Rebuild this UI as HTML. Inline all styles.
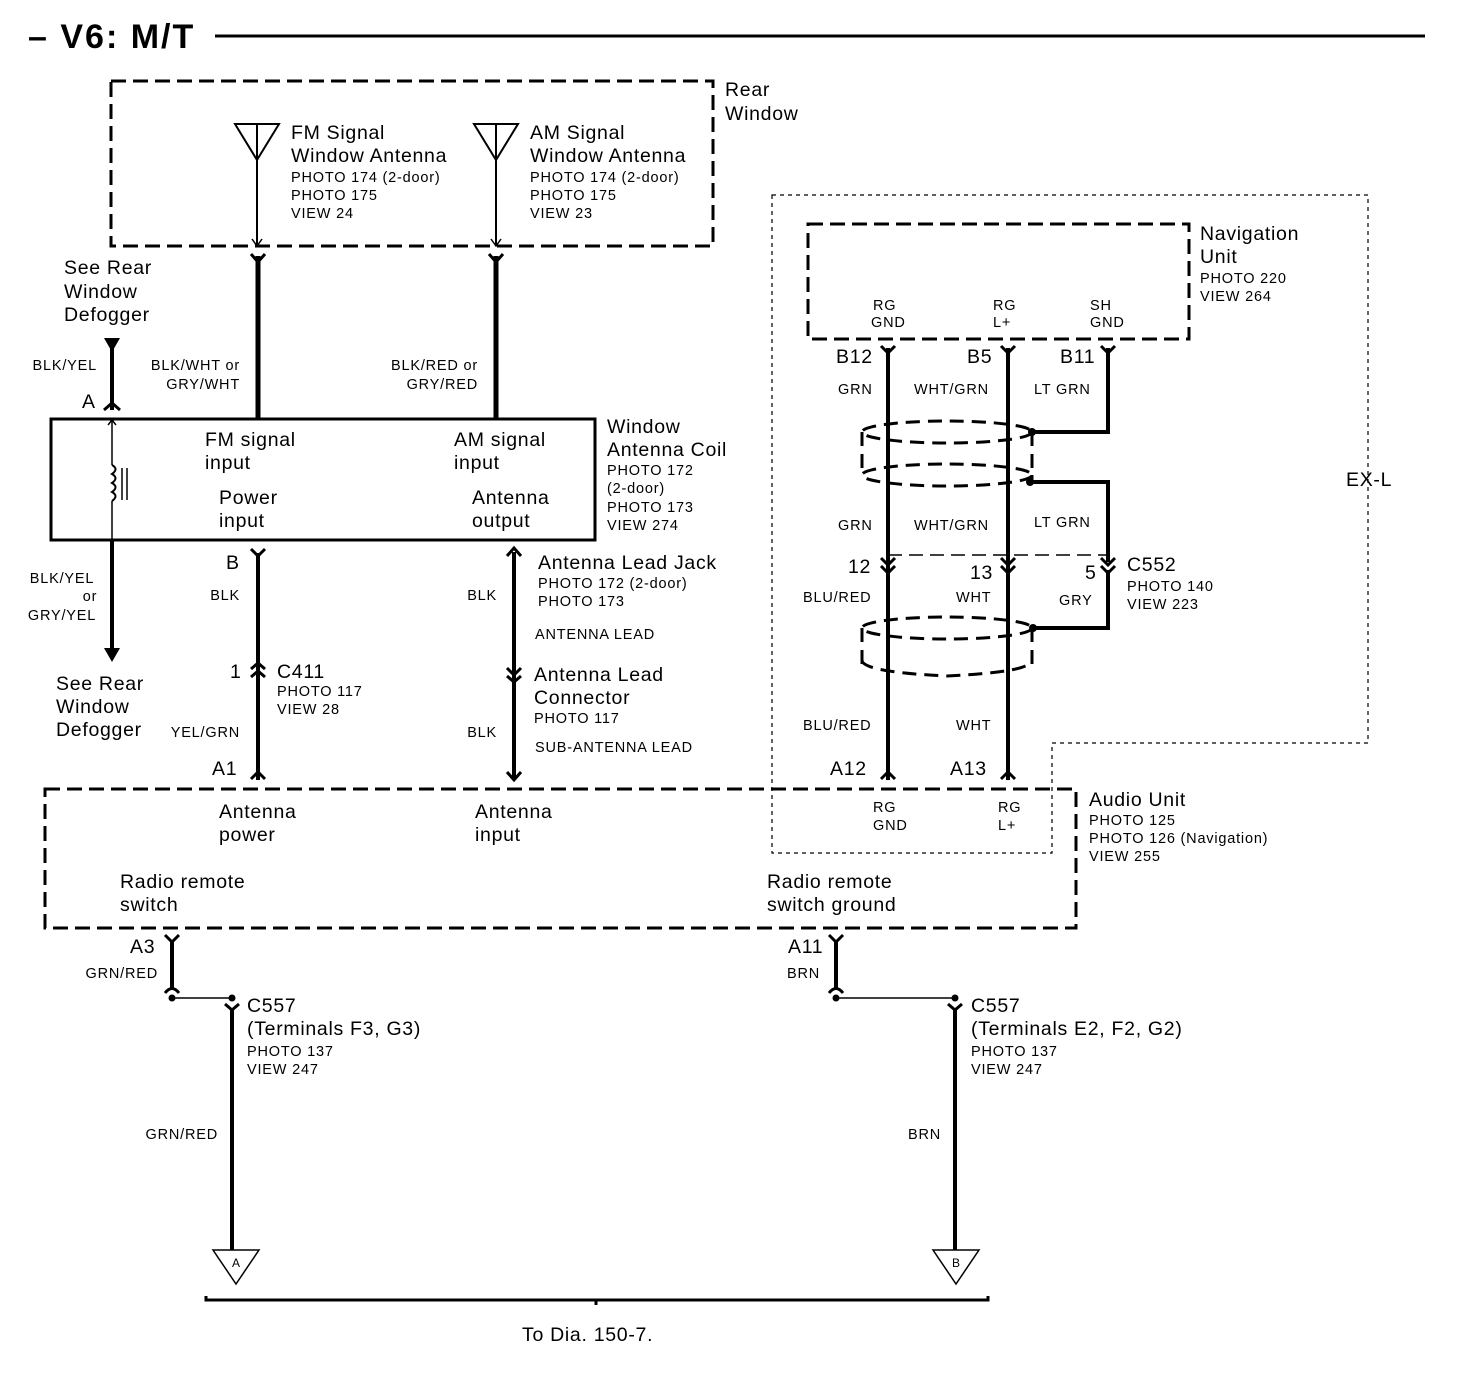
<!DOCTYPE html>
<html><head><meta charset="utf-8"><style>
body{margin:0;background:#fff}
svg text{font-family:"Liberation Sans",Arial,sans-serif;fill:#000}
.b{font-size:19.5px;letter-spacing:0.7px}.s{font-size:14.5px;letter-spacing:0.8px}
</style></head><body>
<svg width="1472" height="1376" viewBox="0 0 1472 1376" xmlns="http://www.w3.org/2000/svg">
<g fill="none" stroke="#000" stroke-linecap="butt">
<line x1="215" y1="36" x2="1425" y2="36" stroke-width="3"/>
<rect x="111" y="81" width="602" height="165" stroke-width="3" stroke-dasharray="15,7"/>
<path d="M235 124 L279 124 L257 160 Z M257 124 L257 160 M257 160 L257 246" stroke-width="2"/>
<path d="M252 239 L257 246 L262 239" stroke-width="1.5"/>
<path d="M474 124 L518 124 L496 160 Z M496 124 L496 160 M496 160 L496 246" stroke-width="2"/>
<path d="M491 239 L496 246 L501 239" stroke-width="1.5"/>
<line x1="258" y1="256" x2="258" y2="418" stroke-width="5"/>
<path d="M251 254 L258 262 L265 254" stroke-width="3"/>
<line x1="496" y1="256" x2="496" y2="418" stroke-width="5"/>
<path d="M489 254 L496 262 L503 254" stroke-width="3"/>
<rect x="51" y="419" width="544" height="121" stroke-width="3"/>
<line x1="112" y1="345" x2="112" y2="410" stroke-width="4"/>
<path d="M104 410 L112 403 L120 410" stroke-width="3"/>
<line x1="112" y1="419" x2="112" y2="465" stroke-width="1.5"/>
<path d="M108 425 L112 420 L116 425" stroke-width="1.5"/>
<path d="M112 465 q7 4 0 9 q7 4 0 9 q7 4 0 9 q7 4 0 9" stroke-width="2"/>
<line x1="112" y1="501" x2="112" y2="540" stroke-width="1.5"/>
<line x1="122" y1="468" x2="122" y2="500" stroke-width="1.5"/>
<line x1="127" y1="468" x2="127" y2="500" stroke-width="1.5"/>
<line x1="112" y1="540" x2="112" y2="650" stroke-width="4"/>
<line x1="258" y1="553" x2="258" y2="780" stroke-width="4"/>
<path d="M251 549 L258 556 L265 549" stroke-width="3"/>
<path d="M251 669 L258 663 L265 669 M251 677 L258 671 L265 677" stroke-width="3"/>
<path d="M251 779 L258 772 L265 779" stroke-width="3"/>
<line x1="514" y1="552" x2="514" y2="778" stroke-width="4"/>
<path d="M507 556 L514 548 L521 556" stroke-width="3"/>
<path d="M507 668 L514 675 L521 668 M507 676 L514 682 L521 676" stroke-width="3"/>
<path d="M507 772 L514 780 L521 772" stroke-width="3"/>
<rect x="45" y="789" width="1031" height="139" stroke-width="3" stroke-dasharray="15,7"/>
<path d="M772 195 L1368 195 L1368 743 L1052 743 L1052 853 L772 853 Z" stroke-width="1.2" stroke-dasharray="4,4"/>
<rect x="808" y="224" width="381" height="115" stroke-width="3" stroke-dasharray="15,7"/>
<line x1="888" y1="348" x2="888" y2="780" stroke-width="4"/>
<line x1="1008" y1="348" x2="1008" y2="780" stroke-width="4"/>
<path d="M881 346 L888 353 L895 346 M1001 346 L1008 353 L1015 346 M1101 346 L1108 353 L1115 346" stroke-width="3"/>
<path d="M1108 348 L1108 432 L1035 432" stroke-width="4"/>
<path d="M1030 482 L1108 482 L1108 562" stroke-width="4"/>
<path d="M1108 570 L1108 628 L1035 628" stroke-width="4"/>
<line x1="888" y1="555" x2="1108" y2="555" stroke-width="1.5" stroke-dasharray="14,7"/>
<path d="M881 558 L888 565 L895 558 M881 566 L888 573 L895 566 M1001 558 L1008 565 L1015 558 M1001 566 L1008 573 L1015 566 M1101 558 L1108 565 L1115 558 M1101 566 L1108 573 L1115 566" stroke-width="3"/>
<path d="M881 779 L888 772 L895 779 M1001 779 L1008 772 L1015 779" stroke-width="3"/>
<g stroke-width="3" stroke-dasharray="14,8">
<ellipse cx="947" cy="432" rx="85" ry="11"/>
<ellipse cx="947" cy="475" rx="85" ry="11"/>
<line x1="862" y1="432" x2="862" y2="475"/>
<line x1="1032" y1="432" x2="1032" y2="482"/>
<ellipse cx="947" cy="628" rx="85" ry="11"/>
<line x1="862" y1="628" x2="862" y2="672"/>
<line x1="1032" y1="628" x2="1032" y2="672"/>
<path d="M862 660 Q862 672 947 676 Q1032 672 1032 660"/>
</g>
<line x1="172" y1="940" x2="172" y2="990" stroke-width="4"/>
<path d="M165 935 L172 942 L179 935" stroke-width="3"/>
<path d="M165 993 Q172 984 179 993" stroke-width="3"/>
<line x1="172" y1="998" x2="232" y2="998" stroke-width="1.5"/>
<path d="M225 1004 L232 1010 L239 1004" stroke-width="3"/>
<line x1="232" y1="1008" x2="232" y2="1250" stroke-width="4"/>
<path d="M213 1250 L259 1250 L236 1284 Z" stroke-width="1.5"/>
<line x1="836" y1="940" x2="836" y2="990" stroke-width="4"/>
<path d="M829 935 L836 942 L843 935" stroke-width="3"/>
<path d="M829 993 Q836 984 843 993" stroke-width="3"/>
<line x1="836" y1="998" x2="955" y2="998" stroke-width="1.5"/>
<path d="M948 1004 L955 1010 L962 1004" stroke-width="3"/>
<line x1="955" y1="1008" x2="955" y2="1250" stroke-width="4"/>
<path d="M933 1250 L979 1250 L956 1284 Z" stroke-width="1.5"/>
<path d="M206 1296 L206 1300 L988 1300 L988 1296 M596 1300 L596 1305" stroke-width="3"/>
</g>
<g fill="#000">
<path d="M104 338 L120 338 L112 352 Z"/>
<path d="M104 648 L120 648 L112 662 Z"/>
<circle cx="1032" cy="432" r="4"/><circle cx="1030" cy="482" r="4"/><circle cx="1033" cy="628" r="4"/>
<circle cx="172" cy="998" r="3.5"/><circle cx="232" cy="998" r="3.5"/>
<circle cx="836" cy="998" r="3.5"/><circle cx="955" cy="998" r="3.5"/>
</g>
<text x="28" y="48" style="font-size:34px;font-weight:bold;letter-spacing:2px">– V6: M/T</text>
<text class="b" x="725" y="96">Rear</text><text class="b" x="725" y="120">Window</text>
<text class="b" x="291" y="139">FM Signal</text><text class="b" x="291" y="162">Window Antenna</text>
<text class="s" x="291" y="182">PHOTO 174 (2-door)</text><text class="s" x="291" y="200">PHOTO 175</text><text class="s" x="291" y="218">VIEW 24</text>
<text class="b" x="530" y="139">AM Signal</text><text class="b" x="530" y="162">Window Antenna</text>
<text class="s" x="530" y="182">PHOTO 174 (2-door)</text><text class="s" x="530" y="200">PHOTO 175</text><text class="s" x="530" y="218">VIEW 23</text>
<text class="b" x="64" y="274">See Rear</text><text class="b" x="64" y="298">Window</text><text class="b" x="64" y="321">Defogger</text>
<text class="s" x="97" y="370" text-anchor="end">BLK/YEL</text>
<text class="b" x="82" y="408">A</text>
<text class="s" x="240" y="370" text-anchor="end">BLK/WHT or</text><text class="s" x="240" y="389" text-anchor="end">GRY/WHT</text>
<text class="s" x="478" y="370" text-anchor="end">BLK/RED or</text><text class="s" x="478" y="389" text-anchor="end">GRY/RED</text>
<text class="b" x="205" y="446">FM signal</text><text class="b" x="205" y="469">input</text>
<text class="b" x="219" y="504">Power</text><text class="b" x="219" y="527">input</text>
<text class="b" x="454" y="446">AM signal</text><text class="b" x="454" y="469">input</text>
<text class="b" x="472" y="504">Antenna</text><text class="b" x="472" y="527">output</text>
<text class="b" x="607" y="433">Window</text><text class="b" x="607" y="456">Antenna Coil</text>
<text class="s" x="607" y="475">PHOTO 172</text><text class="s" x="607" y="493">(2-door)</text><text class="s" x="607" y="512">PHOTO 173</text><text class="s" x="607" y="530">VIEW 274</text>
<text class="s" x="62" y="583" text-anchor="middle">BLK/YEL</text><text class="s" x="90" y="601" text-anchor="middle">or</text><text class="s" x="62" y="620" text-anchor="middle">GRY/YEL</text>
<text class="b" x="56" y="690">See Rear</text><text class="b" x="56" y="713">Window</text><text class="b" x="56" y="736">Defogger</text>
<text class="b" x="226" y="569">B</text>
<text class="s" x="240" y="600" text-anchor="end">BLK</text>
<text class="b" x="230" y="678">1</text>
<text class="b" x="277" y="678">C411</text><text class="s" x="277" y="696">PHOTO 117</text><text class="s" x="277" y="714">VIEW 28</text>
<text class="s" x="240" y="737" text-anchor="end">YEL/GRN</text>
<text class="b" x="212" y="775">A1</text>
<text class="b" x="538" y="569">Antenna Lead Jack</text><text class="s" x="538" y="588">PHOTO 172 (2-door)</text><text class="s" x="538" y="606">PHOTO 173</text>
<text class="s" x="497" y="600" text-anchor="end">BLK</text>
<text class="s" x="535" y="639">ANTENNA LEAD</text>
<text class="b" x="534" y="681">Antenna Lead</text><text class="b" x="534" y="704">Connector</text><text class="s" x="534" y="723">PHOTO 117</text>
<text class="s" x="497" y="737" text-anchor="end">BLK</text>
<text class="s" x="535" y="752">SUB-ANTENNA LEAD</text>
<text class="b" x="219" y="818">Antenna</text><text class="b" x="219" y="841">power</text>
<text class="b" x="475" y="818">Antenna</text><text class="b" x="475" y="841">input</text>
<text class="b" x="120" y="888">Radio remote</text><text class="b" x="120" y="911">switch</text>
<text class="b" x="767" y="888">Radio remote</text><text class="b" x="767" y="911">switch ground</text>
<text class="s" x="873" y="812">RG</text><text class="s" x="873" y="830">GND</text>
<text class="s" x="998" y="812">RG</text><text class="s" x="998" y="830">L+</text>
<text class="b" x="1089" y="806">Audio Unit</text><text class="s" x="1089" y="825">PHOTO 125</text><text class="s" x="1089" y="843">PHOTO 126 (Navigation)</text><text class="s" x="1089" y="861">VIEW 255</text>
<text class="b" x="1346" y="486">EX-L</text>
<text class="b" x="1200" y="240">Navigation</text><text class="b" x="1200" y="263">Unit</text><text class="s" x="1200" y="283">PHOTO 220</text><text class="s" x="1200" y="301">VIEW 264</text>
<text class="s" x="873" y="310">RG</text><text class="s" x="871" y="327">GND</text>
<text class="s" x="993" y="310">RG</text><text class="s" x="993" y="327">L+</text>
<text class="s" x="1090" y="310">SH</text><text class="s" x="1090" y="327">GND</text>
<text class="b" x="836" y="363">B12</text><text class="b" x="967" y="363">B5</text><text class="b" x="1060" y="363">B11</text>
<text class="s" x="838" y="394">GRN</text><text class="s" x="914" y="394">WHT/GRN</text><text class="s" x="1034" y="394">LT GRN</text>
<text class="s" x="838" y="530">GRN</text><text class="s" x="914" y="530">WHT/GRN</text><text class="s" x="1034" y="527">LT GRN</text>
<text class="b" x="848" y="573">12</text><text class="b" x="970" y="579">13</text><text class="b" x="1085" y="579">5</text>
<text class="b" x="1127" y="571">C552</text><text class="s" x="1127" y="591">PHOTO 140</text><text class="s" x="1127" y="609">VIEW 223</text>
<text class="s" x="803" y="602">BLU/RED</text><text class="s" x="956" y="602">WHT</text><text class="s" x="1059" y="605">GRY</text>
<text class="s" x="803" y="730">BLU/RED</text><text class="s" x="956" y="730">WHT</text>
<text class="b" x="830" y="775">A12</text><text class="b" x="950" y="775">A13</text>
<text class="b" x="130" y="953">A3</text><text class="s" x="158" y="978" text-anchor="end">GRN/RED</text>
<text class="b" x="247" y="1012">C557</text><text class="b" x="247" y="1035">(Terminals F3, G3)</text><text class="s" x="247" y="1056">PHOTO 137</text><text class="s" x="247" y="1074">VIEW 247</text>
<text class="s" x="218" y="1139" text-anchor="end">GRN/RED</text>
<text class="b" x="788" y="953">A11</text><text class="s" x="820" y="978" text-anchor="end">BRN</text>
<text class="b" x="971" y="1012">C557</text><text class="b" x="971" y="1035">(Terminals E2, F2, G2)</text><text class="s" x="971" y="1056">PHOTO 137</text><text class="s" x="971" y="1074">VIEW 247</text>
<text class="s" x="941" y="1139" text-anchor="end">BRN</text>
<text x="236" y="1267" text-anchor="middle" style="font-size:12px">A</text>
<text x="956" y="1267" text-anchor="middle" style="font-size:12px">B</text>
<text class="b" x="522" y="1341">To Dia. 150-7.</text>
</svg>
</body></html>
